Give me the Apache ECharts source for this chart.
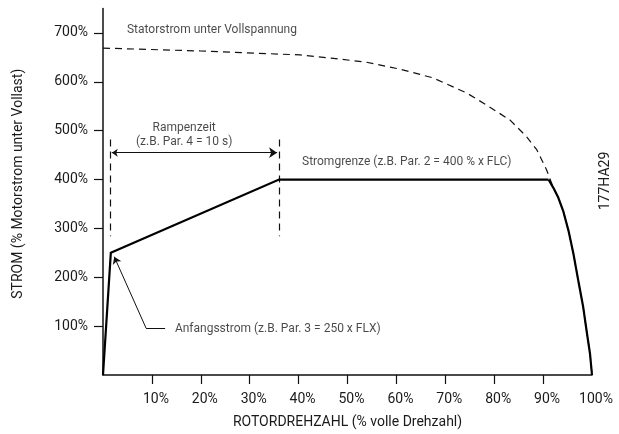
<!DOCTYPE html>
<html>
<head>
<meta charset="utf-8">
<script src="https://cdn.jsdelivr.net/npm/echarts@6/dist/echarts.min.js"></script>
<style>
html,body{margin:0;padding:0;background:#fff;}
#c{width:619px;height:434px;}
</style>
</head>
<body>
<div id="c"></div>
<script>
// ---- data (x: rotor speed %, y: current %) ----
var xTickValues = [10, 20, 30, 40, 50, 60, 70, 80, 90];
var xLabelValues = [10, 20, 30, 40, 50, 60, 70, 80, 90, 100];
var yTickValues = [100, 200, 300, 400, 500, 600, 700];

// Stator current at full voltage (dashed)
var statorX = [0, 20, 40.3, 47.1, 53.9, 60.7, 67.5, 74.4, 78.5, 83.2, 86.6, 88.7, 90.7, 92.1, 93.1, 94.1, 95.2, 96.2, 97.2, 98.2, 98.9, 99.6, 100];
var statorY = [669, 663, 655, 648, 640, 626, 608, 577, 552, 522, 488, 461, 420, 383, 363, 336, 295, 248, 193, 139, 90, 43, 0];

// Soft-start current (solid): ramp part and current-limit roll-off part
var rampX = [0, 1.6, 36, 91.1];
var rampY = [0, 250, 400, 400];
var rollX = [91.1, 92.1, 93.1, 94.1, 95.2, 96.2, 97.2, 98.2, 98.9, 99.6, 100];
var rollY = [400, 383, 363, 336, 295, 248, 193, 139, 90, 43, 0];

// Ramp time markers
var rampMarkerX = [1.5, 36];
var rampMarkerTop = 482;
var rampMarkerBottom = 284;
var rampArrowX = [1.8, 35.6];
var rampArrowY = 455;

// Initial current leader: horizontal foot, then diagonal arrow
var leaderX = [12.7, 8.8, 2.3];
var leaderY = [96, 96, 242];

// Annotation texts and their anchor points
var noteTexts = ['Statorstrom unter Vollspannung', 'Rampenzeit', '(z.B. Par. 4 = 10 s)', 'Stromgrenze (z.B. Par. 2 = 400 % x FLC)', 'Anfangsstrom (z.B. Par. 3 = 250 x FLX)'];
var noteX = [4.9, 16.6, 16.6, 40.7, 14.7];
var noteY = [706, 506, 476, 435, 94];
var noteAlign = ['left', 'center', 'center', 'left', 'left'];

var figureId = '177HA29';
var xTitle = 'ROTORDREHZAHL (% volle Drehzahl)';
var yTitle = 'STROM (% Motorstrom unter Vollast)';

// ---- build ----
function pairs(xs, ys) { return xs.map(function (x, i) { return [x, ys[i]]; }); }

var FONT = 'Roboto';
var INK = '#1a1a1a';

var chart = echarts.init(document.getElementById('c'), null, { renderer: 'canvas' });

var option = {
  backgroundColor: '#fff',
  animation: false,
  textStyle: { fontFamily: FONT, color: INK },
  grid: { left: 103, right: 27, top: 8.5, bottom: 58, containLabel: false },
  xAxis: {
    type: 'value', min: 0, max: 100,
    name: xTitle, nameLocation: 'middle', nameGap: 40,
    nameTextStyle: { fontFamily: FONT, fontSize: 14, color: INK },
    axisLine: { show: true, onZero: false, lineStyle: { color: '#111', width: 1.5 } },
    axisTick: { show: true, length: 9, customValues: xTickValues, lineStyle: { color: '#111', width: 1.2 } },
    axisLabel: {
      customValues: xLabelValues, margin: 17, fontSize: 14, fontFamily: FONT, color: INK,
      formatter: function (v) { return v + '%'; }, padding: [0, 0, 0, 8]
    },
    splitLine: { show: false }
  },
  yAxis: {
    type: 'value', min: 0, max: 750,
    name: yTitle, nameLocation: 'middle', nameGap: 78, nameRotate: 90,
    nameTextStyle: { fontFamily: FONT, fontSize: 14, color: INK, padding: [0, 0, 0, 16] },
    axisLine: { show: true, onZero: false, lineStyle: { color: '#111', width: 1.5 } },
    axisTick: { show: true, length: 9, customValues: yTickValues, lineStyle: { color: '#111', width: 1.2 } },
    axisLabel: {
      customValues: yTickValues, margin: 15, fontSize: 14, fontFamily: FONT, color: INK,
      formatter: function (v) { return v + '%'; }
    },
    splitLine: { show: false }
  },
  series: [
    {
      type: 'line', name: 'stator', data: pairs(statorX, statorY),
      symbol: 'none', smooth: false,
      lineStyle: { color: '#111', width: 1.2, type: [7, 5] }, z: 2
    },
    {
      type: 'line', name: 'ramp', data: pairs(rampX, rampY),
      symbol: 'none', smooth: false,
      lineStyle: { color: '#000', width: 2.2, join: 'miter' }, z: 3
    },
    {
      type: 'line', name: 'rolloff', data: pairs(rollX, rollY),
      symbol: 'none', smooth: false,
      lineStyle: { color: '#000', width: 2.2, join: 'round' }, z: 3
    },
    {
      type: 'lines', coordinateSystem: 'cartesian2d',
      data: rampMarkerX.map(function (x) { return { coords: [[x, rampMarkerTop], [x, rampMarkerBottom]] }; }),
      symbol: ['none', 'none'],
      lineStyle: { color: '#111', width: 1.2, type: [7, 5], opacity: 1 }, z: 2
    },
    {
      type: 'lines', coordinateSystem: 'cartesian2d',
      data: [{ coords: [[rampArrowX[0], rampArrowY], [rampArrowX[1], rampArrowY]] }],
      symbol: ['arrow', 'arrow'], symbolSize: [6, 8],
      lineStyle: { color: '#111', width: 1.2, opacity: 1 }, z: 2
    },
    {
      type: 'lines', coordinateSystem: 'cartesian2d',
      data: [{ coords: [[leaderX[0], leaderY[0]], [leaderX[1], leaderY[1]]] }],
      symbol: ['none', 'none'],
      lineStyle: { color: '#111', width: 1, opacity: 1 }, z: 2
    },
    {
      type: 'lines', coordinateSystem: 'cartesian2d',
      data: [{ coords: [[leaderX[1], leaderY[1]], [leaderX[2], leaderY[2]]] }],
      symbol: ['none', 'arrow'], symbolSize: [5, 7],
      lineStyle: { color: '#111', width: 1, opacity: 1 }, z: 2
    },
    {
      type: 'scatter', symbolSize: 0, silent: true, z: 5,
      data: noteTexts.map(function (t, i) {
        return {
          name: t, value: [noteX[i], noteY[i]],
          label: { align: noteAlign[i] }
        };
      }),
      label: {
        show: true, position: [0, 0], formatter: '{b}',
        verticalAlign: 'middle', fontFamily: FONT, fontSize: 12, color: INK
      }
    }
  ],
  graphic: [
    {
      type: 'text', x: 605, y: 181, rotation: Math.PI / 2,
      style: { text: figureId, align: 'center', verticalAlign: 'middle', fontFamily: FONT, fontSize: 14, fill: INK }
    }
  ]
};

chart.setOption(option);
</script>
</body>
</html>
